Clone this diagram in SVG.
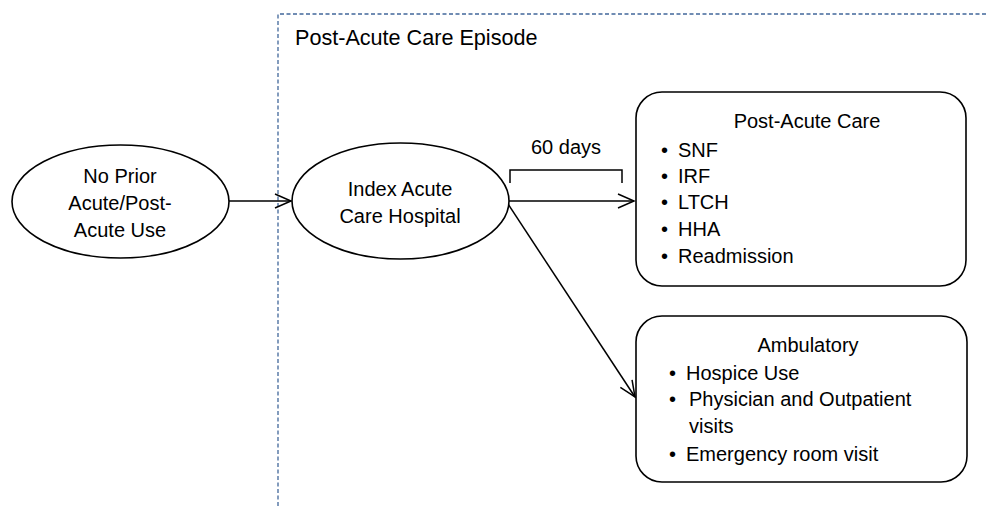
<svg xmlns="http://www.w3.org/2000/svg" width="986" height="506" viewBox="0 0 986 506">
<style>
text{font-family:"Liberation Sans",Arial,sans-serif;font-size:20px;fill:#000}
.c{text-anchor:middle}
.title{font-size:21.6px}
.shape{fill:#fff;stroke:#000;stroke-width:1.6}
.conn{fill:none;stroke:#000;stroke-width:1.5}
.dash{fill:none;stroke:#41679a;stroke-width:1.3;stroke-dasharray:4 2.5}
</style>
<defs>
<marker id="arr" viewBox="0 0 20 20" refX="18" refY="10" markerWidth="20" markerHeight="20" markerUnits="userSpaceOnUse" orient="auto">
<polyline points="2,3 18,10 2,17" fill="none" stroke="#000" stroke-width="1.5"/>
</marker>
</defs>
<g id="episode">
<path class="dash" d="M278,506 L278,14 L986,14"/>
<text class="title" x="295" y="45">Post-Acute Care Episode</text>
</g>
<g id="connectors">
<line class="conn" x1="229" y1="201" x2="291" y2="201" marker-end="url(#arr)"/>
<line class="conn" x1="509" y1="201" x2="634" y2="201" marker-end="url(#arr)"/>
<line class="conn" x1="508" y1="204" x2="635" y2="397" marker-end="url(#arr)"/>
<path class="conn" d="M510,183 L510,170 L622,170 L622,183"/>
<text class="c" x="566" y="154">60 days</text>
</g>
<g id="no-prior">
<ellipse class="shape" cx="120.5" cy="201.5" rx="108.5" ry="56.5"/>
<text class="c" x="120" y="183">No Prior</text>
<text class="c" x="120" y="210">Acute/Post-</text>
<text class="c" x="120" y="237">Acute Use</text>
</g>
<g id="index">
<ellipse class="shape" cx="400.5" cy="201" rx="108.5" ry="58"/>
<text class="c" x="400" y="196">Index Acute</text>
<text class="c" x="400" y="223">Care Hospital</text>
</g>
<g id="post-acute">
<rect class="shape" x="636" y="92" width="330" height="194" rx="26"/>
<text class="c" x="807" y="128">Post-Acute Care</text>
<text x="661" y="157">•</text><text x="678" y="157">SNF</text>
<text x="661" y="183">•</text><text x="678" y="183">IRF</text>
<text x="661" y="209">•</text><text x="678" y="209">LTCH</text>
<text x="661" y="236">•</text><text x="678" y="236">HHA</text>
<text x="661" y="263">•</text><text x="678" y="263">Readmission</text>
</g>
<g id="ambulatory">
<rect class="shape" x="636" y="316" width="331" height="166" rx="26"/>
<text class="c" x="808" y="352">Ambulatory</text>
<text x="669" y="380">•</text><text x="686" y="380">Hospice Use</text>
<text x="669" y="406">•</text><text x="689" y="406">Physician and Outpatient</text>
<text x="689" y="433">visits</text>
<text x="669" y="461">•</text><text x="686" y="461">Emergency room visit</text>
</g>
</svg>
